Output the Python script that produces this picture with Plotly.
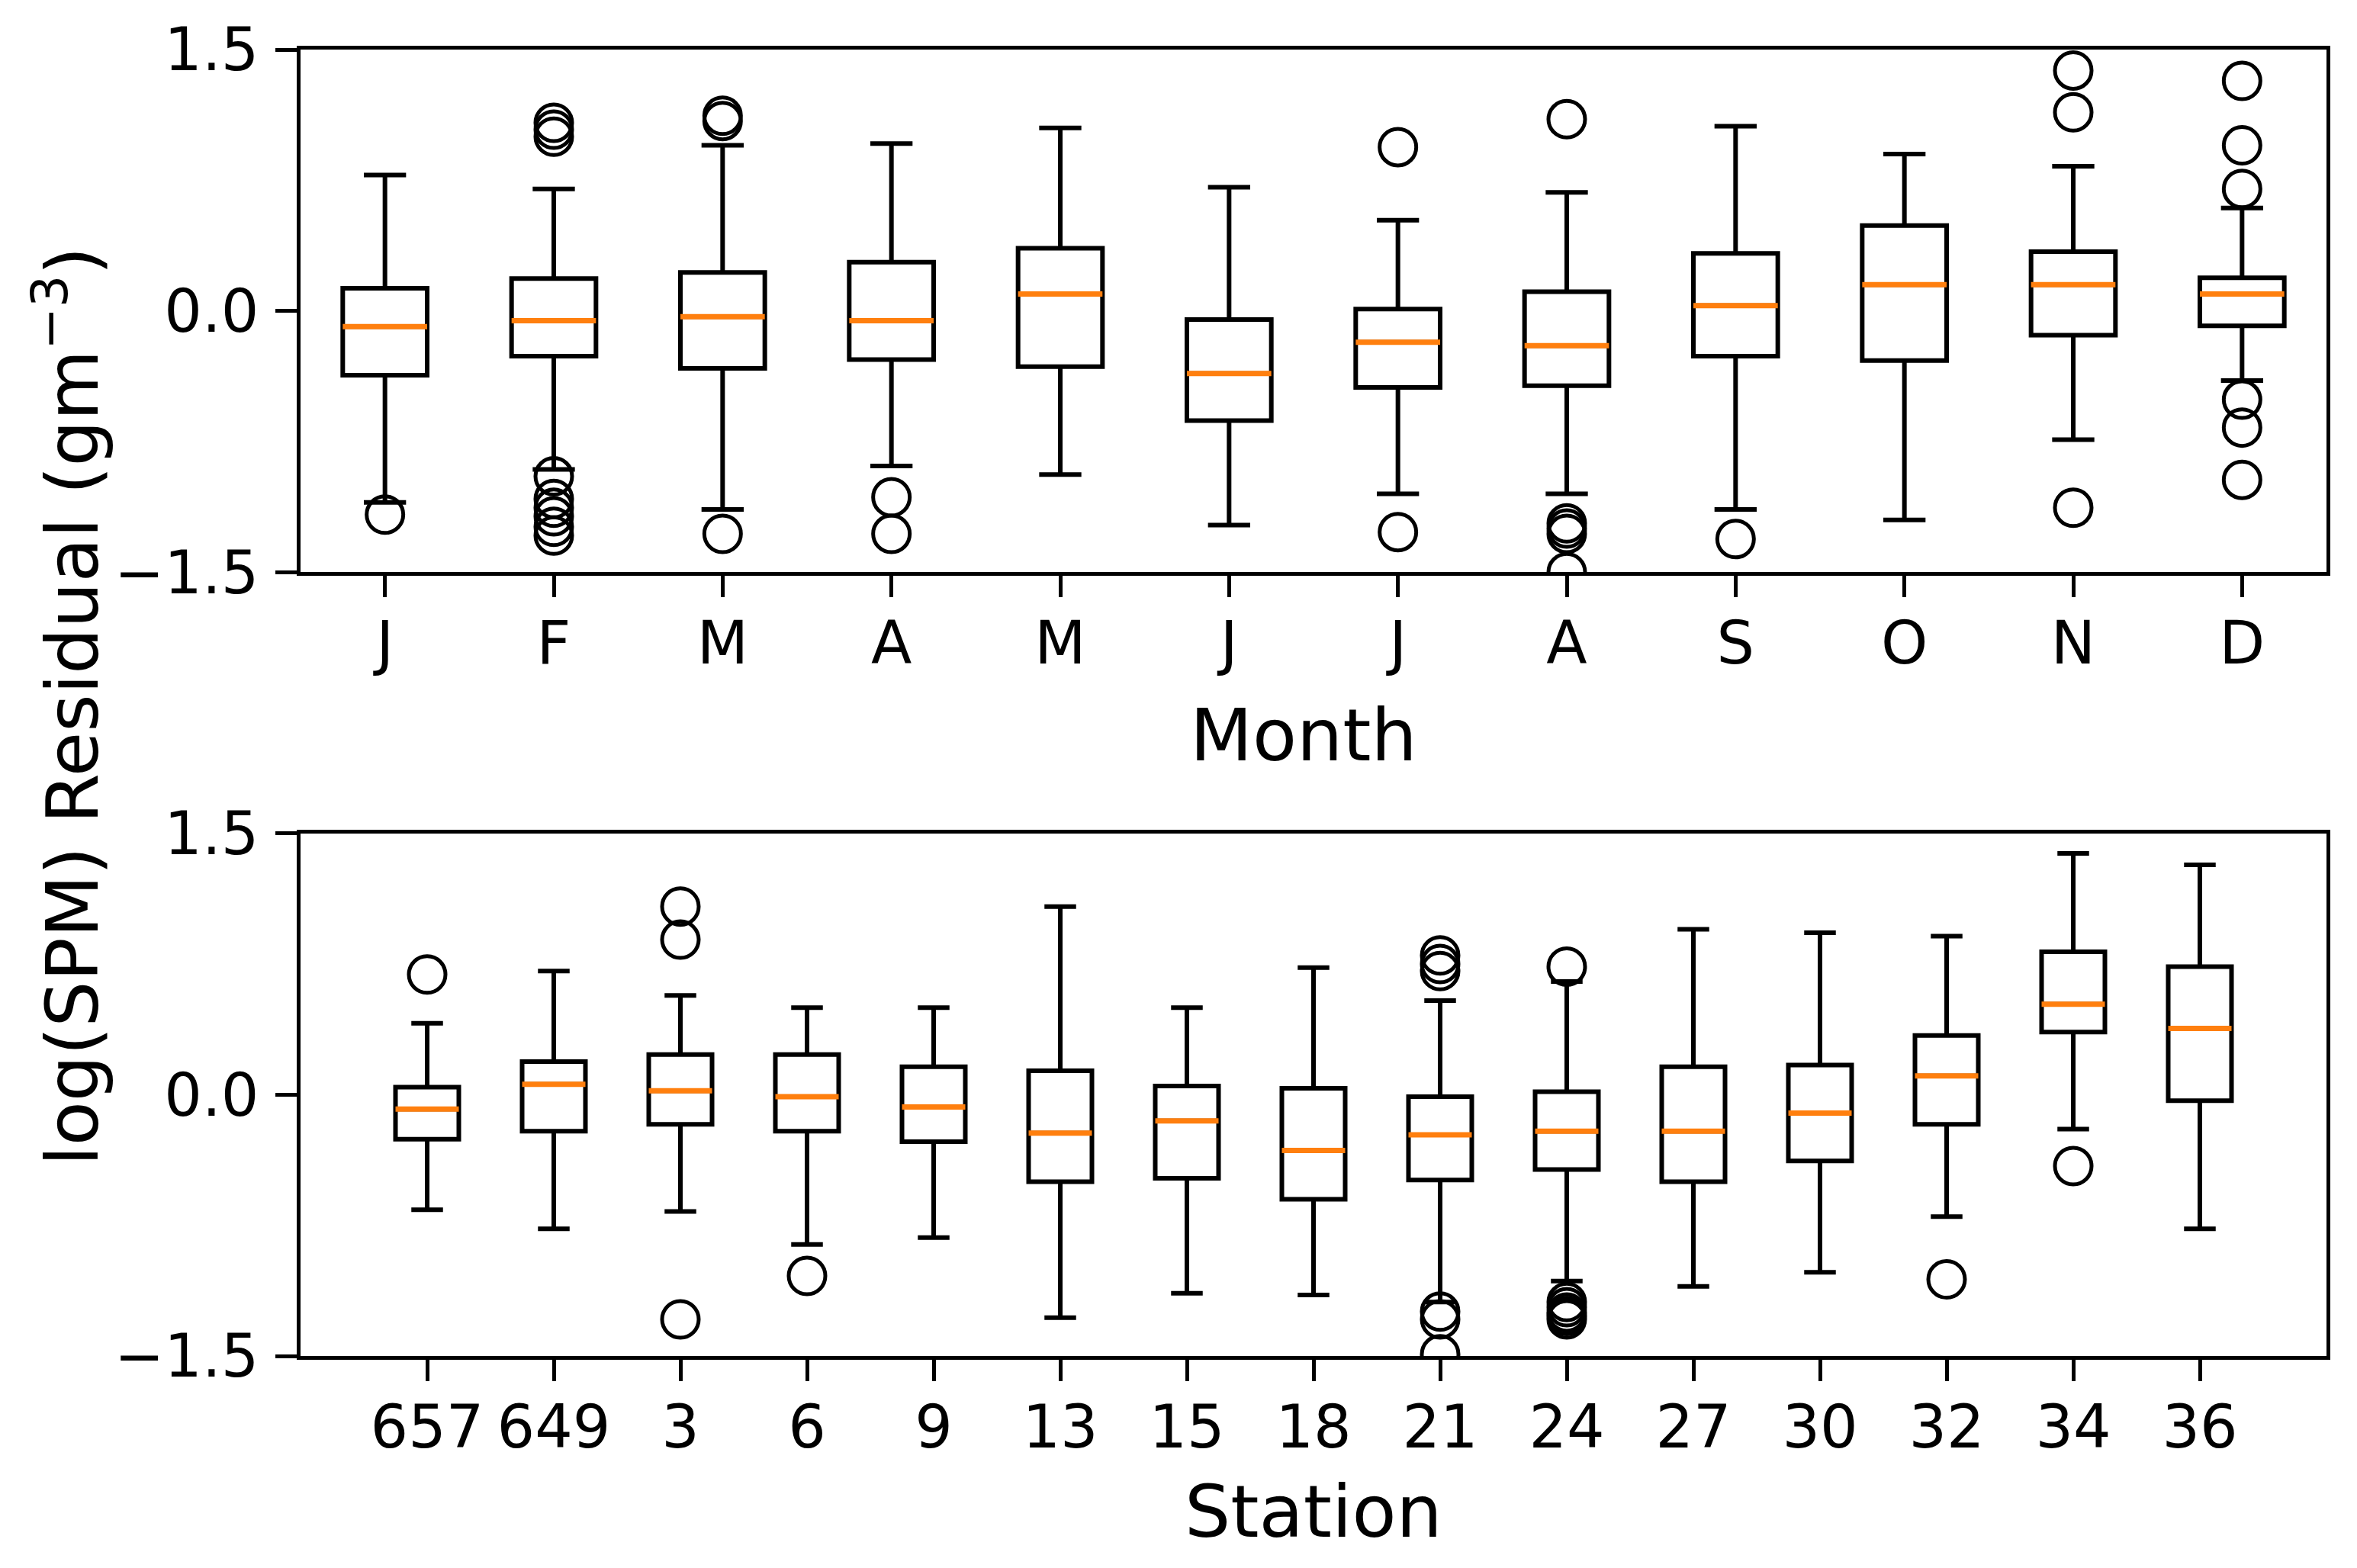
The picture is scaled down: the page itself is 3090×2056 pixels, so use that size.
import plotly.graph_objects as go

# ---------------- data ----------------
months = ["J", "F", "M", "A", "M", "J", "J", "A", "S", "O", "N", "D"]
m_whislo = [-1.10, -0.91, -1.14, -0.89, -0.94, -1.23, -1.05, -1.05, -1.14, -1.20, -0.74, -0.40]
m_q1     = [-0.37, -0.26, -0.33, -0.28, -0.32, -0.63, -0.44, -0.43, -0.26, -0.285, -0.14, -0.086]
m_med    = [-0.09, -0.057, -0.034, -0.057, 0.097, -0.36, -0.18, -0.20, 0.03, 0.15, 0.15, 0.097]
m_q3     = [0.13, 0.185, 0.22, 0.28, 0.36, -0.05, 0.01, 0.11, 0.33, 0.49, 0.34, 0.19]
m_whishi = [0.78, 0.70, 0.95, 0.96, 1.05, 0.71, 0.52, 0.68, 1.06, 0.90, 0.83, 0.59]
m_fliers = [
    [-1.17],
    [1.00, 1.04, 1.08, -0.95, -1.08, -1.13, -1.18, -1.24, -1.29],
    [1.09, 1.12, -1.28],
    [-1.07, -1.28],
    [],
    [],
    [0.94, -1.27],
    [1.10, -1.22, -1.25, -1.28, -1.50],
    [-1.31],
    [],
    [1.38, 1.14, -1.13],
    [1.32, 0.95, 0.70, -0.51, -0.67, -0.97],
]

stations = ["657", "649", "3", "6", "9", "13", "15", "18", "21", "24", "27", "30", "32", "34", "36"]
s_whislo = [-0.66, -0.77, -0.67, -0.86, -0.82, -1.28, -1.14, -1.15, -1.19, -1.07, -1.10, -1.02, -0.70, -0.197, -0.77]
s_q1     = [-0.256, -0.21, -0.17, -0.21, -0.27, -0.50, -0.48, -0.60, -0.49, -0.43, -0.50, -0.38, -0.17, 0.36, -0.034]
s_med    = [-0.083, 0.06, 0.023, -0.011, -0.071, -0.22, -0.15, -0.32, -0.23, -0.21, -0.21, -0.105, 0.108, 0.52, 0.38]
s_q3     = [0.043, 0.19, 0.23, 0.23, 0.16, 0.137, 0.05, 0.037, -0.011, 0.017, 0.16, 0.17, 0.34, 0.82, 0.735]
s_whishi = [0.41, 0.71, 0.57, 0.50, 0.50, 1.08, 0.50, 0.73, 0.54, 0.65, 0.95, 0.93, 0.91, 1.385, 1.32]
s_fliers = [
    [0.69],
    [],
    [1.08, 0.89, -1.29],
    [-1.04],
    [],
    [],
    [],
    [],
    [0.80, 0.75, 0.71, -1.245, -1.29, -1.49],
    [0.735, -1.19, -1.22, -1.25, -1.27, -1.29],
    [],
    [],
    [-1.06],
    [-0.41],
    [],
]

y_ticks = [-1.5, 0.0, 1.5]
y_ticktext = ["\u22121.5", "0.0", "1.5"]

# ---------------- figure ----------------
W, H = 3090, 2056
FONT = "DejaVu Sans"
BOX_W = 0.5
LW = 6

fig = go.Figure()


def add_panel(labels, whislo, q1, med, q3, whishi, fliers, xa, ya):
    pos = list(range(1, len(labels) + 1))
    fig.add_trace(go.Box(
        x=pos, q1=q1, median=med, q3=q3, lowerfence=whislo, upperfence=whishi,
        width=BOX_W, whiskerwidth=0.5, boxpoints=False,
        line=dict(color="black", width=LW), fillcolor="rgba(0,0,0,0)",
        xaxis=xa, yaxis=ya, showlegend=False, hoverinfo="skip",
    ))
    mx, my = [], []
    for p, m in zip(pos, med):
        mx += [p - BOX_W / 2, p + BOX_W / 2, None]
        my += [m, m, None]
    fig.add_trace(go.Scatter(
        x=mx, y=my, mode="lines", line=dict(color="#ff7f0e", width=7),
        xaxis=xa, yaxis=ya, showlegend=False, hoverinfo="skip",
    ))
    fx, fy = [], []
    for p, fl in zip(pos, fliers):
        for v in fl:
            fx.append(p)
            fy.append(v)
    fig.add_trace(go.Scatter(
        x=fx, y=fy, mode="markers",
        marker=dict(symbol="circle-open", size=48, color="black", line=dict(width=5)),
        xaxis=xa, yaxis=ya, showlegend=False, hoverinfo="skip",
    ))


add_panel(months, m_whislo, m_q1, m_med, m_q3, m_whishi, m_fliers, "x", "y")
add_panel(stations, s_whislo, s_q1, s_med, s_q3, s_whishi, s_fliers, "x2", "y2")

axis_common = dict(
    showline=True, mirror=True, linecolor="black", linewidth=5,
    ticks="outside", ticklen=28, tickwidth=5, tickcolor="black",
    showgrid=False, zeroline=False,
    tickfont=dict(family=FONT, size=78, color="black"),
)
xstyle = dict(axis_common, ticklabelstandoff=-7)
ystyle = dict(axis_common, ticklabelstandoff=6)

fig.update_layout(
    width=W, height=H,
    margin=dict(l=386, r=48, t=44, b=286),
    paper_bgcolor="white", plot_bgcolor="white",
    font=dict(family=FONT, color="black"),
    xaxis=dict(domain=[0, 1], anchor="y", range=[0.5, 12.5],
               tickvals=list(range(1, 13)), ticktext=months, **xstyle),
    yaxis=dict(domain=[0.6, 1], anchor="x", range=[-1.5, 1.5],
               tickvals=y_ticks, ticktext=y_ticktext, **ystyle),
    xaxis2=dict(domain=[0, 1], anchor="y2", range=[0, 16],
                tickvals=list(range(1, 16)), ticktext=stations, **xstyle),
    yaxis2=dict(domain=[0, 0.4], anchor="x2", range=[-1.5, 1.5],
                tickvals=y_ticks, ticktext=y_ticktext, **ystyle),
    annotations=[
        dict(text="Month", xref="paper", yref="paper", x=0.495, y=0.4751,
             xanchor="center", yanchor="middle", showarrow=False,
             font=dict(family=FONT, size=95, color="black")),
        dict(text="Station", xref="paper", yref="paper", x=0.5, y=-0.1188,
             xanchor="center", yanchor="middle", showarrow=False,
             font=dict(family=FONT, size=95, color="black")),
        dict(text="log(SPM) Residual (gm<sup>\u22123</sup>)", xref="paper", yref="paper",
             x=-0.1152, y=0.497, xanchor="center", yanchor="middle", textangle=-90,
             showarrow=False, font=dict(family=FONT, size=95, color="black")),
    ],
)

fig.write_html("out.html")
